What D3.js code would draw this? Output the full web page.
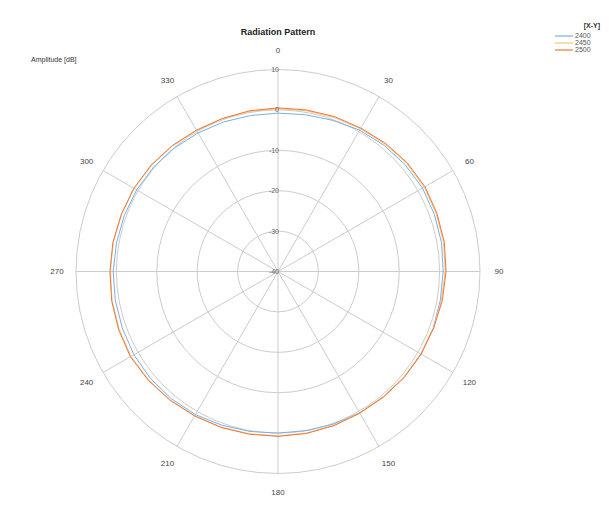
<!DOCTYPE html>
<html>
<head>
<meta charset="utf-8">
<script src="https://cdn.jsdelivr.net/npm/d3@7"></script>
<style>
  body { margin: 0; background: #fff; }
  svg { display: block; font-family: "Liberation Sans", Arial, sans-serif; }
</style>
</head>
<body>
<div id="chart"></div>
<script>
// angles in degrees, one sample every 10 degrees
const angles = d3.range(0, 360, 10);
const seriesNames = ["2400", "2450", "2500"];
const amp2400 = [-0.8, -0.6, -0.2, 0.4, 0.8, 1.1, 1.3, 1.2, 1.1, 0.9, 0.8, 0.9,
                 0.9, 0.7, 0.5, 0.4, 0.2, 0.0, 0.0, 0.2, 0.5, 0.9, 1.1, 1.2,
                 1.2, 1.0, 0.9, 0.8, 0.6, 0.5, 0.4, 0.2, -0.1, -0.4, -0.6, -0.8];
const amp2450 = [0.3, 0.4, 0.6, 0.8, 1.2, 1.6, 1.8, 1.7, 1.6, 1.4, 1.1, 0.9,
                 0.8, 0.7, 0.5, 0.4, 0.5, 0.6, 0.7, 0.8, 1.0, 1.2, 1.5, 1.8,
                 2.0, 1.8, 1.7, 1.5, 1.4, 1.2, 1.1, 0.9, 0.6, 0.3, 0.2, 0.2];
const amp2500 = [0.5, 0.6, 0.8, 1.0, 1.4, 1.8, 2.0, 1.9, 1.8, 1.6, 1.3, 1.0,
                 0.9, 0.8, 0.6, 0.5, 0.6, 0.7, 0.8, 0.9, 1.1, 1.3, 1.6, 1.9,
                 2.2, 2.0, 1.8, 1.6, 1.5, 1.3, 1.2, 1.0, 0.7, 0.4, 0.3, 0.4];
const ringTicks = [10, 0, -10, -20, -30, -40];
const spokeAngles = d3.range(0, 360, 30);

const colors = { "2400": "#7ab0e4", "2450": "#f9c47e", "2500": "#e8793f" };
const seriesData = { "2400": amp2400, "2450": amp2450, "2500": amp2500 };

const width = 609, height = 519;
const cx = 278, cy = 271.5;

const svg = d3.select("#chart").append("svg")
    .attr("width", width)
    .attr("height", height);

const r = d3.scaleLinear().domain([-40, 10]).range([0, 202]);
const a = d3.scaleLinear().domain([0, 360]).range([0, 2 * Math.PI]);

const g = svg.append("g").attr("transform", `translate(${cx},${cy})`);

// rings
g.append("g")
    .selectAll("circle")
    .data(ringTicks.filter(d => d > -40))
    .join("circle")
    .attr("r", d => r(d))
    .attr("fill", "none")
    .attr("stroke", "#cccccc")
    .attr("stroke-width", 1);

// spokes
g.append("g")
    .selectAll("line")
    .data(spokeAngles)
    .join("line")
    .attr("x1", 0).attr("y1", 0)
    .attr("x2", d => r(10) * Math.sin(a(d)))
    .attr("y2", d => -r(10) * Math.cos(a(d)))
    .attr("stroke", "#cccccc")
    .attr("stroke-width", 1);

// angle labels
g.append("g")
    .selectAll("text")
    .data(spokeAngles)
    .join("text")
    .attr("x", d => 221 * Math.sin(a(d)))
    .attr("y", d => -221 * Math.cos(a(d)))
    .attr("dy", "0.35em")
    .attr("text-anchor", "middle")
    .attr("font-size", 8)
    .attr("fill", "#444")
    .text(d => d);

// data curves
const line = d3.lineRadial()
    .angle((d, i) => a(angles[i]))
    .radius(d => r(d))
    .curve(d3.curveLinearClosed);

g.append("g")
    .selectAll("path")
    .data(seriesNames)
    .join("path")
    .attr("d", s => line(seriesData[s]))
    .attr("fill", "none")
    .attr("stroke", s => colors[s])
    .attr("stroke-width", 1);

// radial tick labels
g.append("g")
    .selectAll("text")
    .data(ringTicks)
    .join("text")
    .attr("x", 1)
    .attr("y", d => -r(d))
    .attr("dy", "0.35em")
    .attr("text-anchor", "end")
    .attr("font-size", 7)
    .attr("fill", "#666")
    .text(d => d);

// title
svg.append("text")
    .attr("x", cx)
    .attr("y", 35)
    .attr("text-anchor", "middle")
    .attr("font-size", 9)
    .attr("font-weight", "bold")
    .attr("fill", "#222")
    .text("Radiation Pattern");

svg.append("text")
    .attr("x", 31)
    .attr("y", 62)
    .attr("font-size", 7)
    .attr("fill", "#333")
    .text("Amplitude [dB]");

// legend
const legend = svg.append("g").attr("transform", "translate(555,25)");
legend.append("text")
    .attr("x", 45)
    .attr("y", 3)
    .attr("text-anchor", "end")
    .attr("font-size", 7)
    .attr("font-weight", "bold")
    .attr("fill", "#333")
    .text("[X-Y]");

const item = legend.selectAll("g.item")
    .data(seriesNames)
    .join("g")
    .attr("class", "item")
    .attr("transform", (d, i) => `translate(0,${11 + i * 7})`);
item.append("line")
    .attr("x1", 0).attr("x2", 18)
    .attr("stroke", d => colors[d])
    .attr("stroke-width", 1.2);
item.append("text")
    .attr("x", 20)
    .attr("dy", "0.35em")
    .attr("font-size", 7)
    .attr("fill", "#555")
    .text(d => d);
</script>
</body>
</html>
